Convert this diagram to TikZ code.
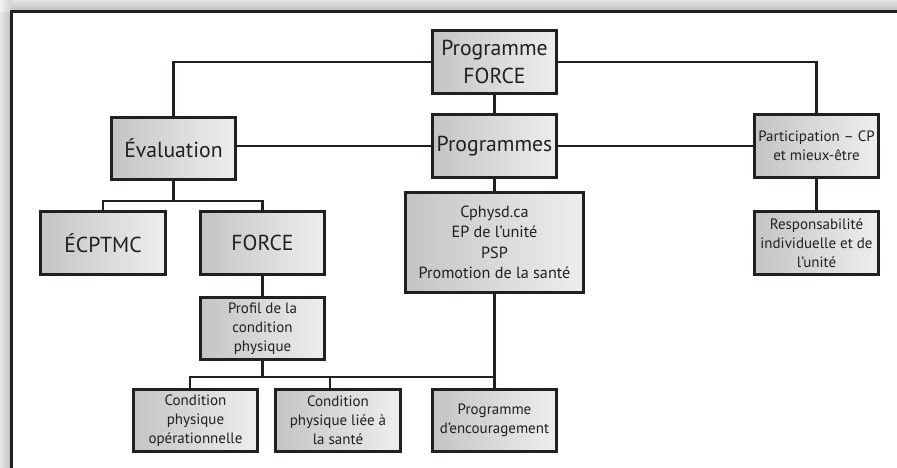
\documentclass[tikz,border=0pt]{standalone}
\usepackage{fontspec}
\setmainfont{PT Sans}
\definecolor{linec}{HTML}{231F20}
\definecolor{boxl}{HTML}{C4C4C4}
\definecolor{boxr}{HTML}{EDEEEE}
\begin{document}
\begin{tikzpicture}[x=1pt,y=-1pt,
  box/.style={draw=linec, line width=2.6pt, left color=boxl, right color=boxr,
    align=center, inner sep=0pt, minimum width=124.5pt, minimum height=62.5pt,
    text=linec},
  bigt/.style={font=\fontsize{21.7}{28.5}\selectfont},
  midt/.style={font=\fontsize{16.2}{20.5}\selectfont},
  smallt/.style={font=\fontsize{15}{18.8}\selectfont},
  conn/.style={draw=linec, line width=2.4pt}]
\useasboundingbox (0,0) rectangle (897,467);
% shadow around the frame
\fill[gray!25] (0,0) rectangle (897,467);
\shade[left color=gray!18, right color=gray!50] (0,0) rectangle (11,467);
\shade[top color=gray!22, bottom color=gray!50] (11,0) rectangle (897,11);
\shade[left color=gray!10, right color=gray!35] (0,0) rectangle (11,11);
\draw[line width=3pt, draw=linec, fill=white] (11.5,11.5) rectangle (910,480);
% nodes
\node[box,bigt] (pf) at (494.5,62) {Programme\\FORCE};
\node[box,bigt] (eval) at (173.5,148.5) {Évaluation};
\node[box,bigt] (progs) at (494.5,146) {Programmes};
\node[box,smallt] (part) at (816.5,146) {Participation – CP\\et mieux-être};
\node[box,smallt] (resp) at (816.5,243) {Responsabilité\\individuelle et de\\l’unité};
\node[box,midt,minimum width=178.5pt,minimum height=100.5pt] (cph) at (494.5,242.5)
  {Cphysd.ca\\EP de l’unité\\PSP\\Promotion de la santé};
\node[box,bigt] (ecp) at (103,243) {ÉCPTMC};
\node[box,bigt] (force) at (262.5,243) {FORCE};
\node[box,smallt] (profil) at (262.5,328.5) {Profil de la\\condition\\physique};
\node[box,smallt] (c1) at (195.5,420.5) {Condition\\physique\\opérationnelle};
\node[box,smallt] (c2) at (338,420.5) {Condition\\physique liée à\\la santé};
\node[box,smallt] (enc) at (494.5,420.5) {Programme\\d’encouragement};
% junction points
\coordinate (ej) at (173.5,201);
\coordinate (d1) at (190,377);
\coordinate (d2) at (330,377);
% connectors
\draw[conn] (pf.west) -| (eval.north);
\draw[conn] (pf.east) -| (part.north);
\draw[conn] (pf.south) -- (progs.north);
\draw[conn] (eval.east |- progs.west) -- (progs.west);
\draw[conn] (progs.east) -- (part.west);
\draw[conn] (progs.south) -- (cph.north);
\draw[conn] (part.south) -- (resp.north);
\draw[conn] (eval.south) -- (ej);
\draw[conn] (ecp.north) |- (ej) -| (force.north);
\draw[conn] (force.south) -- (profil.north);
\draw[conn] (cph.south) -- (enc.north);
\draw[conn] (d1 |- c1.north) -- (d1) -- (enc.north |- d1);
\draw[conn] (d2 |- c2.north) -- (d2);
\draw[conn] (profil.south) -- (profil.south |- d1);
\end{tikzpicture}
\end{document}
